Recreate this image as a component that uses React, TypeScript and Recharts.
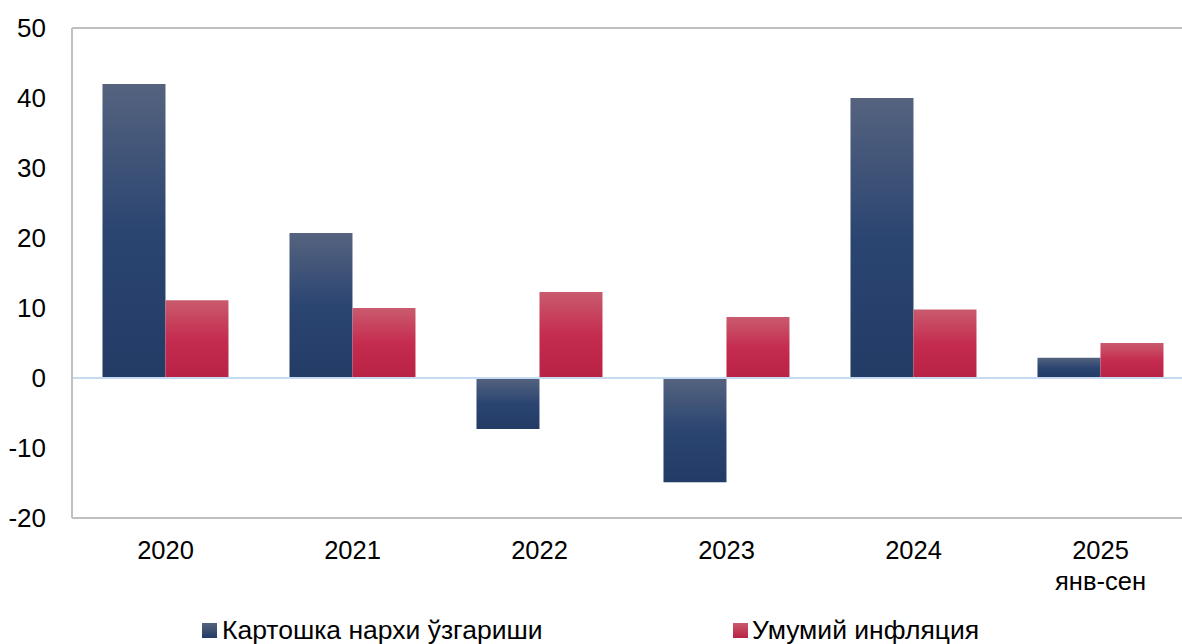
import { BarChart, Bar, XAxis, YAxis, ReferenceLine, Legend } from "recharts";

const YEARS = ["2020", "2021", "2022", "2023", "2024", "2025\nянв-сен"];
const POTATO = [42.0, 20.7, -7.3, -14.9, 40.0, 2.9];
const INFLATION = [11.1, 10.0, 12.3, 8.7, 9.8, 5.0];
const Y_TICKS = [-20, -10, 0, 10, 20, 30, 40, 50];
const SERIES_NAMES = ["Картошка нархи ўзгариши", "Умумий инфляция"];

const data = YEARS.map((year, i) => ({
  year,
  potato: POTATO[i],
  inflation: INFLATION[i],
}));

const FONT = '"Liberation Sans", Arial, sans-serif';

const YearTick = ({ x, y, payload }: any) => {
  const lines = String(payload.value).split("\n");
  return (
    <text x={x} y={y} textAnchor="middle" fontSize={25.5} fill="#000" fontFamily={FONT}>
      {lines.map((line, i) => (
        <tspan key={i} x={x} dy={i === 0 ? 33 : 31}>
          {line}
        </tspan>
      ))}
    </text>
  );
};

const LegendContent = () => (
  <div style={{ position: "relative", height: 46, fontFamily: FONT, fontSize: 26.5, color: "#000" }}>
    <div style={{ position: "absolute", left: 202, top: 17, display: "flex", alignItems: "center", lineHeight: "30px" }}>
      <div style={{ width: 15, height: 15, background: "linear-gradient(#54627e, #223c66)", marginRight: 5 }} />
      <span>{SERIES_NAMES[0]}</span>
    </div>
    <div style={{ position: "absolute", left: 733, top: 17, display: "flex", alignItems: "center", lineHeight: "30px" }}>
      <div style={{ width: 15, height: 15, background: "linear-gradient(#c95a6d, #b82244)", marginRight: 4 }} />
      <span>{SERIES_NAMES[1]}</span>
    </div>
  </div>
);

export default function App() {
  return (
    <div style={{ position: "absolute", left: 0, top: 0, width: 1182, height: 644, overflow: "hidden", background: "#fff" }}>
      <BarChart
        width={1200}
        height={644}
        data={data}
        margin={{ top: 28, right: 6, left: 0, bottom: 0 }}
        barCategoryGap="16.3%"
        barGap={0}
      >
        <defs>
          <linearGradient id="blueGrad" x1="0" y1="0" x2="0" y2="1">
            <stop offset="0%" stopColor="#55637f" />
            <stop offset="50%" stopColor="#2b4571" />
            <stop offset="100%" stopColor="#223c66" />
          </linearGradient>
          <linearGradient id="redGrad" x1="0" y1="0" x2="0" y2="1">
            <stop offset="0%" stopColor="#c95b6e" />
            <stop offset="50%" stopColor="#c52c4f" />
            <stop offset="100%" stopColor="#b82244" />
          </linearGradient>
        </defs>
        <XAxis
          dataKey="year"
          interval={0}
          height={80}
          tick={<YearTick />}
          tickLine={false}
          axisLine={{ stroke: "#c0c0c0", strokeWidth: 2 }}
        />
        <YAxis
          domain={[-20, 50]}
          ticks={Y_TICKS}
          width={72}
          tickLine={false}
          axisLine={{ stroke: "#c0c0c0", strokeWidth: 2 }}
          tick={{ fontSize: 26, fill: "#000", fontFamily: FONT }}
          tickMargin={20}
          allowDataOverflow
        />
        <ReferenceLine y={50} stroke="#c0c0c0" strokeWidth={2} />
        <Bar dataKey="potato" name={SERIES_NAMES[0]} fill="url(#blueGrad)" isAnimationActive={false} />
        <Bar dataKey="inflation" name={SERIES_NAMES[1]} fill="url(#redGrad)" isAnimationActive={false} />
        <ReferenceLine y={0} stroke="#c6daf2" strokeWidth={2} />
        <Legend verticalAlign="bottom" align="left" height={46} content={<LegendContent />} wrapperStyle={{ left: 0, width: 1182 }} />
      </BarChart>
    </div>
  );
}
